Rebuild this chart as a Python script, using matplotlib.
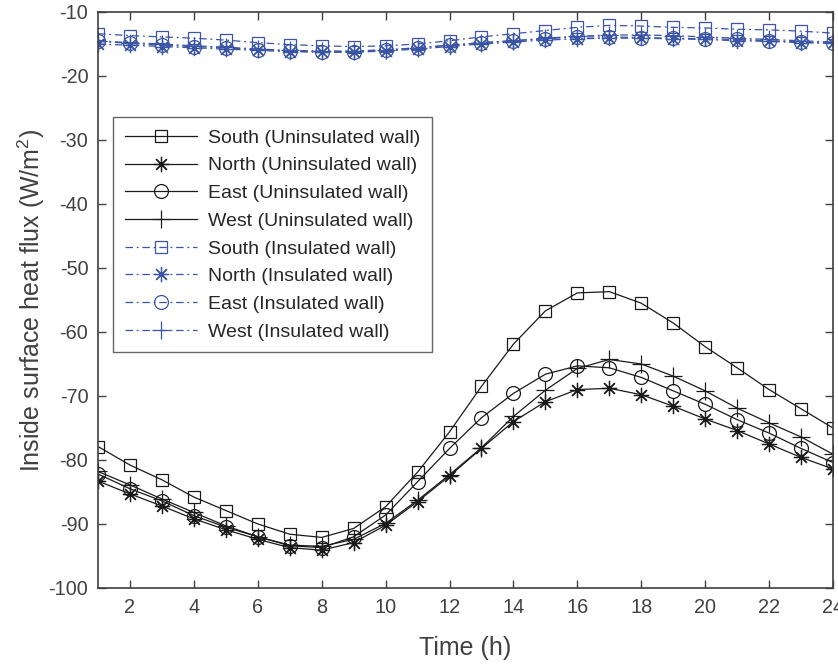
import matplotlib
matplotlib.use("Agg")
import matplotlib.pyplot as plt

plt.rcParams['font.family'] = ['Liberation Sans', 'DejaVu Sans']
plt.rcParams['mathtext.fontset'] = 'custom'
plt.rcParams['mathtext.rm'] = 'Liberation Sans'
plt.rcParams['mathtext.default'] = 'regular'
plt.rcParams['axes.unicode_minus'] = False

hours = list(range(1, 25))

south_un = [-77.9, -80.8, -83.1, -85.8, -87.9, -90.0, -91.6, -92.1, -90.7, -87.3, -81.9, -75.6,
            -68.5, -61.9, -56.7, -53.9, -53.7, -55.5, -58.6, -62.3, -65.6, -69.0, -72.0, -75.0]
north_un = [-83.3, -85.3, -87.2, -89.2, -90.9, -92.4, -93.7, -94.1, -92.9, -90.2, -86.5, -82.5,
            -78.2, -74.0, -70.9, -69.0, -68.8, -69.8, -71.6, -73.6, -75.4, -77.5, -79.6, -81.4]
east_un = [-82.2, -84.5, -86.4, -88.7, -90.5, -92.0, -93.4, -93.7, -92.0, -88.6, -83.4, -78.2,
           -73.4, -69.6, -66.6, -65.3, -65.6, -67.1, -69.2, -71.3, -73.7, -75.8, -78.2, -80.4]
west_un = [-81.8, -83.9, -86.1, -88.2, -90.3, -92.0, -93.3, -93.5, -92.4, -89.9, -86.3, -82.3,
           -78.1, -73.2, -69.1, -65.7, -64.3, -65.0, -66.9, -69.2, -71.9, -74.2, -76.4, -79.1]

south_in = [-13.4, -13.7, -13.9, -14.1, -14.4, -14.8, -15.1, -15.3, -15.4, -15.3, -15.0, -14.5,
            -13.9, -13.4, -12.9, -12.4, -12.1, -12.2, -12.4, -12.5, -12.7, -12.8, -13.0, -13.3]
north_in = [-15.0, -15.2, -15.4, -15.6, -15.8, -16.0, -16.2, -16.3, -16.3, -16.1, -15.8, -15.4,
            -15.0, -14.7, -14.4, -14.2, -14.1, -14.1, -14.2, -14.3, -14.5, -14.6, -14.8, -14.9]
east_in = [-14.6, -14.9, -15.2, -15.4, -15.6, -15.9, -16.1, -16.2, -16.2, -16.0, -15.6, -15.2,
           -14.8, -14.5, -14.2, -13.9, -13.9, -14.0, -14.1, -14.2, -14.3, -14.5, -14.7, -14.9]
west_in = [-14.5, -14.8, -15.0, -15.3, -15.5, -15.8, -16.0, -16.1, -16.1, -15.9, -15.6, -15.2,
           -14.8, -14.5, -14.1, -13.8, -13.6, -13.6, -13.7, -13.9, -14.1, -14.3, -14.5, -14.7]

labels = ['South (Uninsulated wall)', 'North (Uninsulated wall)', 'East (Uninsulated wall)',
          'West (Uninsulated wall)', 'South (Insulated wall)', 'North (Insulated wall)',
          'East (Insulated wall)', 'West (Insulated wall)']

xticks = list(range(2, 25, 2))
yticks = list(range(-100, -9, 10))

fig = plt.figure(figsize=(8.38, 6.64), dpi=100)
ax = fig.add_axes([0.117, 0.1145, 0.877, 0.8675])

black = '#1a1a1a'
blue = '#3b55a5'
asterisk = (8, 2, 0)
markers = ['s', asterisk, 'o', '+']
sizes = [9, 11, 10, 13]

un_series = [south_un, north_un, east_un, west_un]
in_series = [south_in, north_in, east_in, west_in]

for i, ys in enumerate(un_series):
    ax.plot(hours, ys, linestyle='-', color=black, lw=0.9, marker=markers[i],
            ms=sizes[i], mfc='none', mec=black, mew=0.9, label=labels[i])
for i, ys in enumerate(in_series):
    ax.plot(hours, ys, linestyle=(0, (6, 3, 1.5, 3)), color=blue, lw=0.9, marker=markers[i],
            ms=sizes[i], mfc='none', mec=blue, mew=0.9, label=labels[4 + i])

ax.set_xlim(1, 24)
ax.set_ylim(-100, -10)
ax.set_xticks(xticks)
ax.set_yticks(yticks)

spine_col = '#404040'
for s in ax.spines.values():
    s.set_color(spine_col)
    s.set_linewidth(1.2)
ax.tick_params(direction='in', top=True, right=True, length=6, width=1.0,
               color=spine_col, labelcolor='#404040', labelsize=14.3, pad=7)

ax.set_xlabel('Time (h)', fontsize=18, color='#404040', labelpad=14)
ax.set_ylabel(r'Inside surface heat flux (W/m$^2$)', fontsize=18, color='#404040', labelpad=1)

leg = ax.legend(loc='upper left', bbox_to_anchor=(0.021, 0.817), fontsize=14,
                frameon=True, fancybox=False, handlelength=3.7, handletextpad=0.55,
                labelspacing=0.52, borderpad=0.6, borderaxespad=0)
leg.get_frame().set_edgecolor('#404040')
leg.get_frame().set_linewidth(1.0)
for t in leg.get_texts():
    t.set_color('#262626')

fig.savefig('out.png', dpi=100)
